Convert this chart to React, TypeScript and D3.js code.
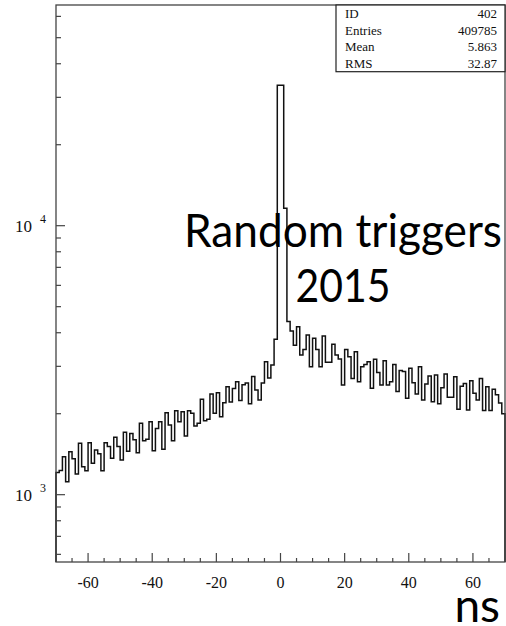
import React from "react";
import * as d3 from "d3";

// Histogram: 1 ns bins from -70 to 70 ns
const binStart = -70;
const binWidth = 1;
// counts for bins -70 .. -1
const countsNeg = [
  1210, 1230, 1384, 1118, 1445, 1360, 1194, 1553, 1271, 1228,
  1560, 1309, 1467, 1420, 1228, 1560, 1509, 1365, 1634, 1509,
  1346, 1706, 1450, 1690, 1600, 1432, 1843, 1588, 1606, 1868,
  1457, 1764, 1868, 1475, 2017, 1815, 1588, 2053, 1868, 2035,
  1652, 2053, 2006, 1800, 1843, 2263, 1885, 1906, 2370, 2006,
  2393, 1950, 2197, 2517, 2210, 2480, 2630, 2240, 2560, 2600,
  2180, 2750, 2450, 2250, 2600, 3120, 2716, 3033, 3785, 33300,
];
// counts for bins 0 .. 69
const countsPos = [
  33300, 11600, 4400, 4063, 3596, 4212, 3306, 3468, 3925, 2990,
  3812, 3468, 2990, 3890, 3105, 3105, 3626, 3306, 3196, 2556,
  3468, 3258, 2705, 3400, 2630, 2990, 3050, 3120, 2486, 3185,
  2844, 2556, 3150, 2556, 2630, 3050, 2418, 2893, 2870, 2283,
  2950, 2606, 2370, 2990, 2248, 2578, 2760, 2217, 2788, 2178,
  2500, 2807, 2302, 2302, 2745, 2080, 2532, 2590, 2065, 2650,
  2385, 2248, 2705, 2055, 2517, 2055, 2464, 2350, 2190, 2000,
];

const xDomain = [-70, 70];
const yDomain = [562, 66140];
const xMajorTicks = [-60, -40, -20, 0, 20, 40, 60];
const xTickLabels = ["-60", "-40", "-20", "0", "20", "40", "60"];
const yMajorTicks = [1000, 10000];
const yTickExponents = ["3", "4"];
const yMinorTicks = [600, 700, 800, 900, 2000, 3000, 4000, 5000, 6000, 7000, 8000, 9000, 20000, 30000, 40000, 50000, 60000];
const xMinorTicks = [-65, -55, -50, -45, -35, -30, -25, -15, -10, -5, 5, 10, 15, 25, 30, 35, 45, 50, 55, 65];

const statsLabels = ["ID", "Entries", "Mean", "RMS"];
const statsValues = ["402", "409785", "5.863", "32.87"];

const overlayLines = ["Random triggers", "2015"];
const axisTitle = "ns";

const L = 56, R = 505, T = 5, B = 562;

export default function App() {
  const counts = [...countsNeg, ...countsPos];
  const x = d3.scaleLinear().domain(xDomain).range([L, R]);
  const y = d3.scaleLog().domain(yDomain).range([B, T]);

  let path = `M${x(binStart)},${B}`;
  counts.forEach((c, i) => {
    const x1 = x(binStart + (i + 1) * binWidth);
    path += `V${y(c)}H${x1}`;
  });
  path += `V${B}`;

  const serif = "'Liberation Serif', 'DejaVu Serif', serif";
  const sans = "Lato, 'Open Sans', sans-serif";
  const axisColor = "#444";

  const boxL = 336, boxB = 71.7;
  const rowY = [18, 35, 51, 67.5];

  return (
    <div>
      <style>{`body{margin:0}`}</style>
      <svg width={506} height={626} style={{ display: "block" }}>
        <rect x={0} y={0} width={506} height={626} fill="#fff" />
        {/* histogram */}
        <path d={path} fill="none" stroke="#111" strokeWidth={1.5} />
        {/* frame */}
        <rect x={L} y={T} width={R - L} height={B - T} fill="none" stroke={axisColor} strokeWidth={1.3} />
        {/* y ticks */}
        {yMajorTicks.map((v) => (
          <line key={"ym" + v} x1={L} x2={L + 9} y1={y(v)} y2={y(v)} stroke={axisColor} strokeWidth={1.2} />
        ))}
        {yMinorTicks.map((v) => (
          <line key={"yn" + v} x1={L} x2={L + 5} y1={y(v)} y2={y(v)} stroke={axisColor} strokeWidth={1.2} />
        ))}
        {yMajorTicks.map((v, i) => (
          <text key={"yl" + v} fontFamily={serif} fill="#111">
            <tspan x={15} y={y(v) + 6.5} fontSize={17}>10</tspan>
            <tspan x={40} y={y(v) - 2.5} fontSize={12}>{yTickExponents[i]}</tspan>
          </text>
        ))}
        {/* x ticks */}
        {xMajorTicks.map((v) => (
          <line key={"xm" + v} x1={x(v)} x2={x(v)} y1={B} y2={B - 9} stroke={axisColor} strokeWidth={1.2} />
        ))}
        {xMinorTicks.map((v) => (
          <line key={"xn" + v} x1={x(v)} x2={x(v)} y1={B} y2={B - 4} stroke={axisColor} strokeWidth={1.2} />
        ))}
        {xMajorTicks.map((v, i) => (
          <text key={"xl" + v} x={x(v)} y={588} textAnchor="middle" fontFamily={serif} fontSize={16} fill="#111">
            {xTickLabels[i]}
          </text>
        ))}
        {/* stats box */}
        <rect x={boxL} y={T} width={R - boxL} height={boxB - T} fill="#fff" stroke="#222" strokeWidth={1.2} />
        {statsLabels.map((lab, i) => (
          <g key={lab}>
            <text x={345} y={rowY[i]} fontFamily={serif} fontSize={13} fill="#111">{lab}</text>
            <text x={497} y={rowY[i]} textAnchor="end" fontFamily={serif} fontSize={13} fill="#111">{statsValues[i]}</text>
          </g>
        ))}
        {/* overlay text */}
        <text x={343} y={247} textAnchor="middle" fontFamily={sans} fontSize={46} fill="#000" textLength={318} lengthAdjust="spacingAndGlyphs">
          {overlayLines[0]}
        </text>
        <text x={343} y={302} textAnchor="middle" fontFamily={sans} fontSize={46} fill="#000" textLength={95} lengthAdjust="spacingAndGlyphs">
          {overlayLines[1]}
        </text>
        <text x={500} y={622} textAnchor="end" fontFamily={sans} fontSize={46} fill="#000">
          {axisTitle}
        </text>
      </svg>
    </div>
  );
}
